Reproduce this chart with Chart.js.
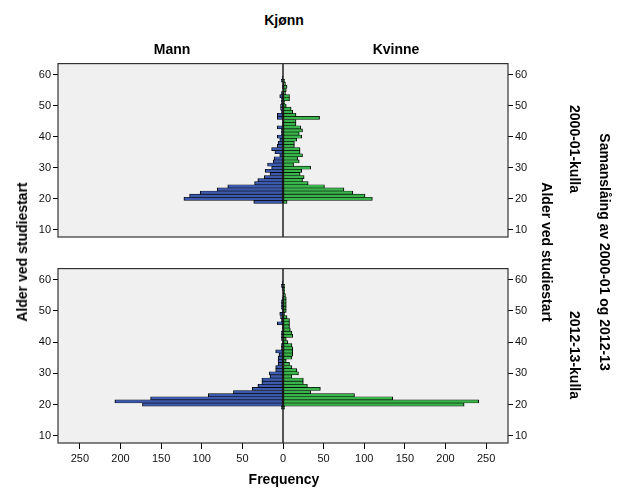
<!DOCTYPE html>
<html>
<head>
<meta charset="utf-8">
<script src="https://cdn.jsdelivr.net/npm/chart.js@4.4.1/dist/chart.umd.min.js"></script>
<style>
  html, body { margin:0; padding:0; background:#fff; }
  #wrap { position:relative; width:626px; height:501px; overflow:hidden; font-family:"Liberation Sans", Arial, sans-serif; }
  canvas { position:absolute; left:0; }
  .lbl { position:absolute; font-weight:bold; font-size:14px; color:#000; white-space:nowrap; transform:translate(-50%,-50%); }
  .rl { transform:translate(-50%,-50%) rotate(-90deg); }
  .rr { transform:translate(-50%,-50%) rotate(90deg); }
</style>
</head>
<body>
<div id="wrap">
  <canvas id="topChart" width="626" height="195" style="top:55px;width:626px;height:195px"></canvas>
  <canvas id="botChart" width="626" height="241" style="top:260px;width:626px;height:241px"></canvas>

  <div class="lbl" style="left:284px;top:20px">Kjønn</div>
  <div class="lbl" style="left:172px;top:49px">Mann</div>
  <div class="lbl" style="left:396px;top:49px">Kvinne</div>
  <div class="lbl rl" style="left:22px;top:252px">Alder ved studiestart</div>
  <div class="lbl rr" style="left:547px;top:252px">Alder ved studiestart</div>
  <div class="lbl rr" style="left:575px;top:149px">2000-01-kulla</div>
  <div class="lbl rr" style="left:575px;top:355px">2012-13-kulla</div>
  <div class="lbl rr" style="left:605px;top:252px">Samanslåing av 2000-01 og 2012-13</div>
  <div class="lbl" style="left:284px;top:479px">Frequency</div>
</div>
<script>
// ages 19..59, one bar per year
const ages = [19,20,21,22,23,24,25,26,27,28,29,30,31,32,33,34,35,36,37,38,39,
              40,41,42,43,44,45,46,47,48,49,50,51,52,53,54,55,56,57,58,59];

// 2000-01-kulla
const mann2000   = [36,122,115,102,81,68,35,31,23,16,22,14,19,12,11,4,10,14,7,6,4,
                    7,2,2,7,1,1,7,7,2,3,3,2,2,4,2,0,1,0,2,1];
const kvinne2000 = [5,110,101,86,75,51,31,24,26,21,23,34,13,20,18,24,21,21,14,14,17,
                    23,20,24,22,16,16,45,16,12,10,4,2,8,8,3,4,5,3,2,0];

// 2012-13-kulla
const mann2012   = [2,173,207,163,92,61,38,31,26,26,16,17,9,9,6,6,6,5,9,2,2,
                    1,2,2,2,1,1,7,2,3,4,1,2,2,2,1,0,0,1,2,1];
const kvinne2012 = [2,223,241,135,88,34,46,30,25,25,11,19,17,11,8,4,11,12,12,12,11,
                    6,4,12,11,9,8,8,8,5,2,4,4,4,4,4,3,2,2,2,0];

const yTicks = [10,20,30,40,50,60];
const xTicks = [-250,-200,-150,-100,-50,0,50,100,150,200,250];

const BLUE = '#3d59ab', GREEN = '#38b44a';

Chart.defaults.font.family = '"Liberation Sans", Arial, sans-serif';
Chart.defaults.font.size = 11;
Chart.defaults.color = '#111';

const panelPlugin = {
  id: 'panel',
  beforeDatasetsDraw(chart) {
    const a = chart.chartArea, ctx = chart.ctx;
    ctx.save();
    ctx.fillStyle = '#f0f0f0';
    ctx.fillRect(a.left, a.top, a.right - a.left, a.bottom - a.top);
    ctx.restore();
  },
  afterDatasetsDraw(chart) {
    const a = chart.chartArea, ctx = chart.ctx;
    const x0 = chart.scales.x.getPixelForValue(0);
    ctx.save();
    ctx.strokeStyle = '#000';
    ctx.lineWidth = 1.3;
    ctx.beginPath(); ctx.moveTo(x0, a.top); ctx.lineTo(x0, a.bottom); ctx.stroke();
    ctx.strokeStyle = '#333';
    ctx.lineWidth = 1.2;
    ctx.strokeRect(a.left, a.top, a.right - a.left, a.bottom - a.top);
    ctx.restore();
  }
};

function yAxis(pos, width) {
  return {
    type: 'linear', position: pos, min: 7.7, max: 63.5, offset: false,
    afterBuildTicks: s => { s.ticks = yTicks.map(v => ({ value: v })); },
    afterFit: s => { s.width = width; },
    grid: { offset: false, drawOnChartArea: false, drawTicks: true, tickLength: 5, tickColor: '#000' },
    border: { display: false },
    ticks: { padding: 2, color: '#111' }
  };
}

function makeChart(id, mann, kvinne, showX) {
  const bar = {
    grouped: false, barPercentage: 1, categoryPercentage: 1,
    borderColor: '#000', borderSkipped: false,
    borderWidth: { top: 0.6, bottom: 0.6, left: 1, right: 1 }
  };
  return new Chart(document.getElementById(id), {
    type: 'bar',
    data: {
      datasets: [
        Object.assign({ label: 'Mann', backgroundColor: BLUE, yAxisID: 'y',
          data: ages.map((a, i) => ({ y: a, x: -mann[i] })) }, bar),
        Object.assign({ label: 'Kvinne', backgroundColor: GREEN, yAxisID: 'y',
          data: ages.map((a, i) => ({ y: a, x: kvinne[i] })) }, bar)
      ]
    },
    options: {
      indexAxis: 'y',
      responsive: false,
      animation: false,
      layout: { padding: { top: 7, bottom: 0, left: 0, right: 0 } },
      plugins: { legend: { display: false }, tooltip: { enabled: false } },
      scales: {
        x: {
          type: 'linear', min: -277, max: 277,
          afterBuildTicks: s => { s.ticks = xTicks.map(v => ({ value: v })); },
          afterFit: s => { s.height = showX ? 58 : 13; },
          grid: { drawOnChartArea: false, drawTicks: showX, tickLength: 6, tickColor: '#000' },
          border: { display: false },
          ticks: { display: showX, padding: 3, color: '#111', callback: v => Math.abs(v) }
        },
        y: yAxis('left', 58),
        y2: yAxis('right', 118)
      }
    },
    plugins: [panelPlugin]
  });
}

makeChart('topChart', mann2000, kvinne2000, false);
makeChart('botChart', mann2012, kvinne2012, true);
</script>
</body>
</html>
